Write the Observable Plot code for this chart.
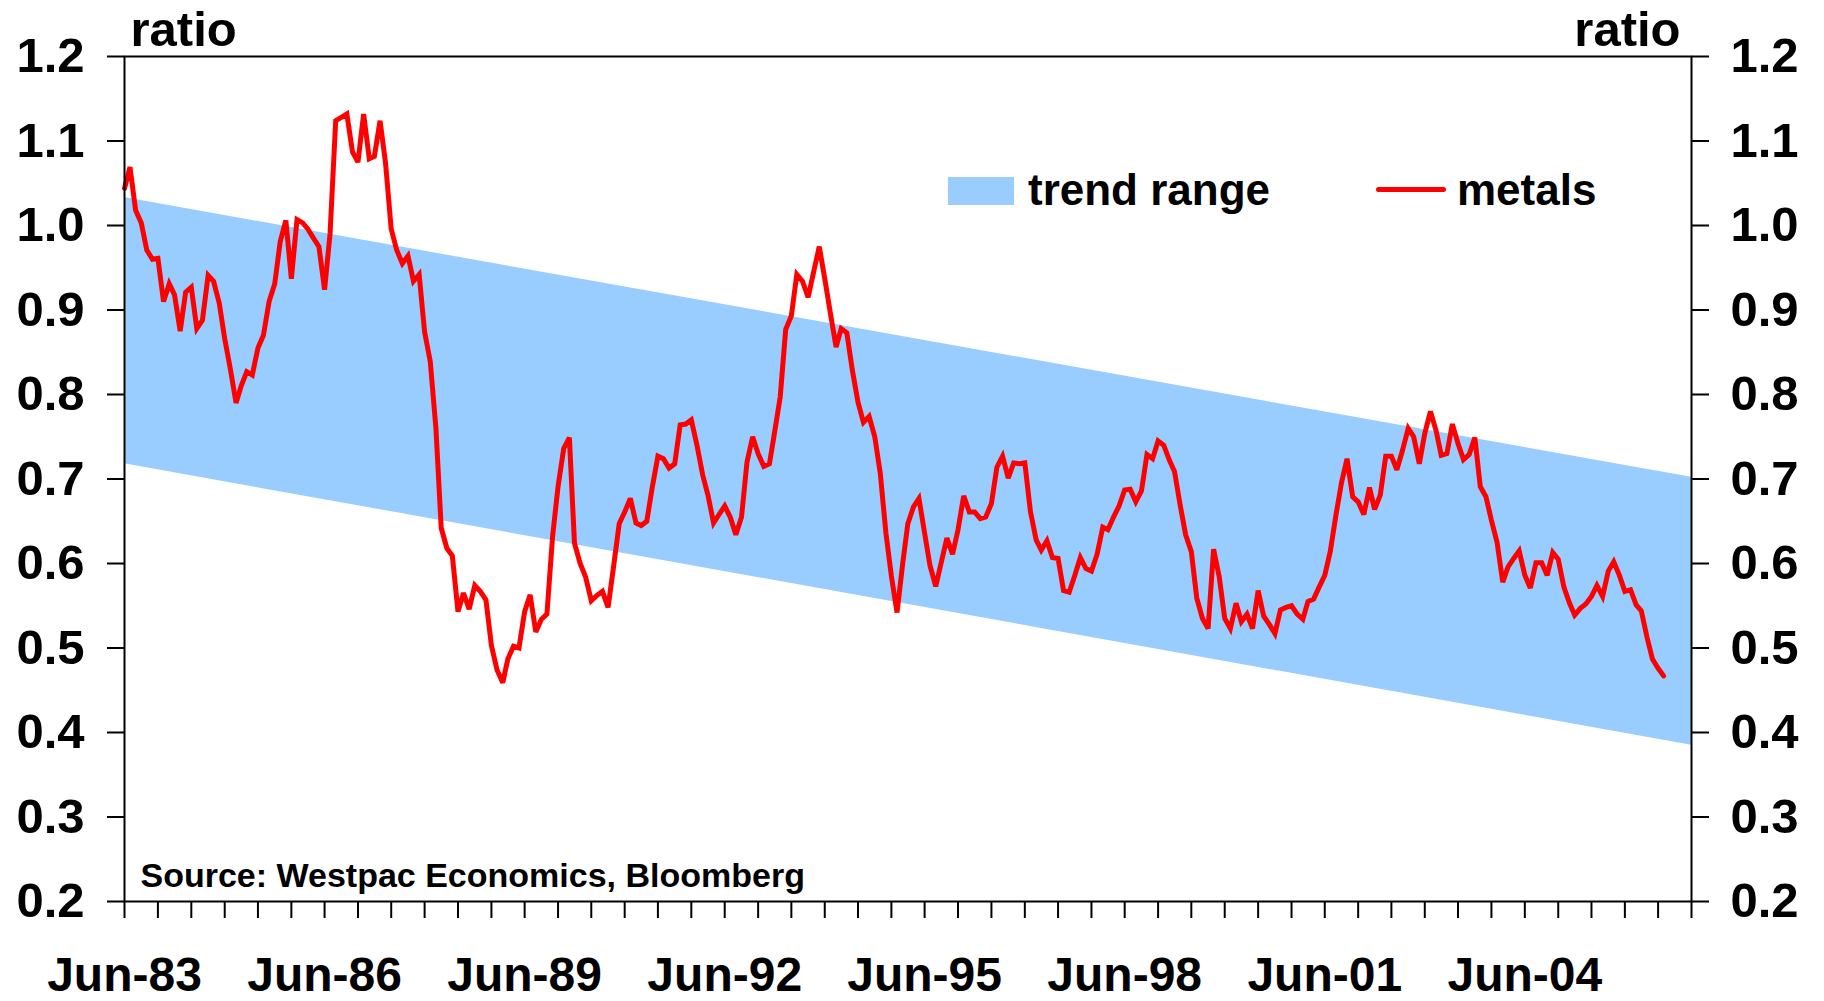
<!DOCTYPE html>
<html><head><meta charset="utf-8">
<script src="https://cdn.jsdelivr.net/npm/d3@7"></script>
<script src="https://cdn.jsdelivr.net/npm/@observablehq/plot@0.6"></script>
<style>
html,body{margin:0;padding:0;background:#fff;}
#wrap{position:relative;width:1824px;height:1001px;font-family:"Liberation Sans",Arial,sans-serif;font-weight:bold;color:#000;}
#wrap svg{position:absolute;left:0;top:0;}
.leg{position:absolute;white-space:nowrap;}
</style></head><body><div id="wrap"></div>
<script>
// ---- data ----
const startMonth = "1983-06";
const endMonth = "2006-12";
// monthly metals ratio from Jun-83
const metals = [
1.044,1.069,1.018,1.003,0.971,0.960,0.961,0.910,0.931,0.918,0.875,0.921,
0.927,0.878,0.888,0.941,0.934,0.908,0.866,0.830,0.790,0.810,0.827,0.823,
0.855,0.870,0.910,0.931,0.981,1.006,0.937,1.007,1.003,0.996,0.985,0.975,
0.924,0.990,1.124,1.128,1.132,1.087,1.075,1.132,1.079,1.082,1.124,1.074,
0.996,0.971,0.955,0.964,0.934,0.942,0.874,0.839,0.760,0.642,0.618,0.609,
0.543,0.565,0.546,0.574,0.567,0.557,0.503,0.474,0.459,0.487,0.502,0.500,
0.543,0.563,0.519,0.534,0.540,0.632,0.691,0.736,0.749,0.624,0.600,0.584,
0.556,0.562,0.567,0.548,0.596,0.647,0.661,0.677,0.648,0.645,0.650,0.690,
0.727,0.724,0.713,0.718,0.764,0.765,0.770,0.740,0.705,0.681,0.648,0.658,
0.668,0.655,0.634,0.655,0.720,0.750,0.730,0.715,0.718,0.755,0.797,0.877,
0.893,0.942,0.934,0.915,0.945,0.975,0.937,0.896,0.856,0.878,0.873,0.829,
0.791,0.767,0.774,0.750,0.707,0.636,0.585,0.542,0.600,0.647,0.667,0.677,
0.636,0.597,0.573,0.602,0.630,0.611,0.640,0.680,0.661,0.661,0.653,0.655,
0.671,0.714,0.727,0.701,0.719,0.718,0.719,0.661,0.628,0.616,0.627,0.607,
0.606,0.568,0.566,0.586,0.607,0.594,0.591,0.611,0.643,0.640,0.655,0.668,
0.687,0.688,0.673,0.686,0.729,0.724,0.745,0.740,0.722,0.709,0.669,0.634,
0.614,0.559,0.535,0.523,0.617,0.584,0.535,0.523,0.553,0.531,0.540,0.523,
0.568,0.538,0.528,0.517,0.545,0.548,0.550,0.540,0.534,0.555,0.558,0.572,
0.586,0.614,0.657,0.696,0.724,0.679,0.673,0.658,0.690,0.664,0.681,0.727,
0.727,0.711,0.734,0.760,0.750,0.718,0.754,0.780,0.757,0.728,0.730,0.765,
0.742,0.723,0.729,0.749,0.691,0.679,0.651,0.625,0.578,0.596,0.606,0.615,
0.586,0.571,0.601,0.601,0.586,0.613,0.605,0.572,0.553,0.539,0.547,0.552,
0.561,0.574,0.561,0.591,0.602,0.586,0.567,0.569,0.551,0.544,0.513,0.487,
0.476,0.467
];
const bandDates = ["1983-06", "2006-12"];
const bandUpper = [1.033, 0.702];
const bandLower = [0.718, 0.385];
const yTicks = [0.2, 0.3, 0.4, 0.5, 0.6, 0.7, 0.8, 0.9, 1.0, 1.1, 1.2];
const xLabelMonths = ["1983-06","1986-06","1989-06","1992-06","1995-06","1998-06","2001-06","2004-06"];
const legendLabels = ["trend range", "metals"];
const axisTitle = "ratio";
const sourceText = "Source: Westpac Economics, Bloomberg";
const bandColor = "#99CCFF";
const lineColor = "#FF0000";

// ---- build ----
const parse = d3.utcParse("%Y-%m");
const start = parse(startMonth), end = parse(endMonth);
const metalsData = metals.map((v, i) => ({date: d3.utcMonth.offset(start, i), value: v}));
const bandData = bandDates.map((d, i) => ({date: parse(d), upper: bandUpper[i], lower: bandLower[i]}));
const xTickDates = d3.utcMonth.range(start, d3.utcMonth.offset(end, 1), 6);
const xLabelDates = xLabelMonths.map(parse);
const fmt = d3.utcFormat("%b-%y");

const chart = Plot.plot({
  width: 1824,
  height: 1001,
  marginLeft: 124,
  marginRight: 133,
  marginTop: 56,
  marginBottom: 100,
  style: {fontFamily: '"Liberation Sans", Arial, sans-serif', fontWeight: "bold", fontSize: "48px", color: "#000", background: "#fff", overflow: "visible"},
  x: {type: "utc", domain: [start, end]},
  y: {domain: [0.2, 1.2]},
  marks: [
    Plot.areaY(bandData, {x: "date", y1: "lower", y2: "upper", fill: bandColor}),
    Plot.line(metalsData, {x: "date", y: "value", stroke: lineColor, strokeWidth: 5, strokeLinejoin: "miter", strokeMiterlimit: 3}),
    Plot.frame({stroke: "#000", strokeWidth: 2}),
    Plot.axisY(yTicks, {anchor: "left", tickSize: 17, tickPadding: 23, tickFormat: ".1f", fontSize: 49, strokeWidth: 2, label: null}),
    Plot.axisY(yTicks, {anchor: "right", tickSize: 17, tickPadding: 22, tickFormat: ".1f", fontSize: 49, strokeWidth: 2, label: null}),
    Plot.axisX(xTickDates, {anchor: "bottom", tickSize: 17, tickFormat: () => "", strokeWidth: 2, label: null}),
    Plot.axisX(xLabelDates, {anchor: "bottom", tickSize: 0, tickPadding: 55, tickFormat: fmt, fontSize: 48, label: null}),
    Plot.text([axisTitle], {frameAnchor: "top-left", dx: 6, dy: -11, lineAnchor: "bottom", textAnchor: "start", fontSize: 49}),
    Plot.text([axisTitle], {frameAnchor: "top-right", dx: -11, dy: -11, lineAnchor: "bottom", textAnchor: "end", fontSize: 49}),
    Plot.text([sourceText], {frameAnchor: "bottom-left", dx: 16, dy: -15, lineAnchor: "bottom", textAnchor: "start", fontSize: 34})
  ]
});
const wrap = document.getElementById("wrap");
wrap.appendChild(chart);

// legend (inside plot area, top right)
function addDiv(style, text) {
  const d = document.createElement("div");
  d.className = "leg";
  Object.assign(d.style, style);
  if (text) d.textContent = text;
  wrap.appendChild(d);
}
addDiv({left: "948px", top: "177px", width: "66px", height: "28px", background: bandColor});
addDiv({left: "1028px", top: "168px", fontSize: "44px", lineHeight: "44px"}, legendLabels[0]);
addDiv({left: "1376px", top: "186.5px", width: "70px", height: "5px", borderRadius: "2.5px", background: lineColor});
addDiv({left: "1457px", top: "168px", fontSize: "44px", lineHeight: "44px"}, legendLabels[1]);
</script></body></html>
